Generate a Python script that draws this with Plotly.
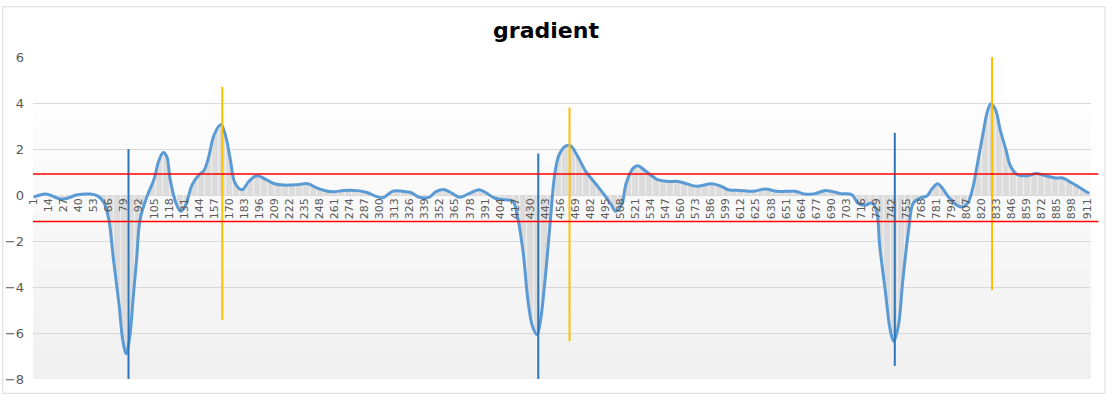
import plotly.graph_objects as go

# ---- data ----
idx = [1, 11, 15, 24, 31, 38, 50, 57, 62, 66, 70, 75, 78, 81, 84, 87, 90, 93, 99,
       105, 109, 113, 116, 119, 124, 128, 132, 138, 144, 148, 152, 157, 163, 167, 171,
       175, 181, 187, 194, 202, 209, 217, 229, 238, 246, 259, 269, 281, 289, 297, 303,
       311, 320, 327, 334, 343, 349, 356, 363, 369, 377, 386, 392, 399, 406, 415, 419,
       424, 428, 432, 436, 439, 442, 445, 448, 451, 455, 461, 465, 471, 478, 486, 494,
       500, 504, 509, 513, 519, 523, 530, 540, 549, 558, 565, 574, 587, 595, 601, 611,
       623, 633, 643, 651, 659, 667, 676, 685, 690, 698, 708, 713, 719, 725, 729, 732,
       737, 741, 744, 748, 752, 757, 761, 767, 773, 777, 782, 786, 792, 798, 803, 808,
       812, 816, 821, 825, 828, 832, 836, 841, 845, 851, 860, 867, 875, 884, 890, 897,
       904, 913]
gradient = [-0.09, 0.04, 0.0, -0.18, -0.13, 0.0, 0.04, -0.06, -0.35, -1.07, -2.8, -4.84,
            -6.3, -6.9, -6.2, -4.5, -2.8, -1.07, -0.06,
            0.67, 1.46, 1.85, 1.68, 0.67, -0.35, -0.71, -0.49, 0.45, 0.88, 1.05, 1.6, 2.62,
            3.06, 2.55, 1.53,
            0.52, 0.23, 0.59, 0.84, 0.67, 0.49, 0.43, 0.45, 0.49, 0.30, 0.14, 0.20, 0.19,
            0.11, -0.06, -0.12,
            0.16, 0.16, 0.11, -0.10, -0.09, 0.16, 0.23, 0.06, -0.10, 0.06, 0.23, 0.09,
            -0.13, -0.20, -0.28, -0.93,
            -2.52, -4.55, -5.71, -6.07, -5.42, -4.12, -2.52, -0.78, 0.81, 1.75, 2.14, 2.14,
            1.68, 1.03, 0.52, 0.01,
            -0.42, -0.71, -0.42, 0.52, 1.17, 1.27, 1.03, 0.67, 0.59, 0.59, 0.49, 0.38,
            0.49, 0.38, 0.23, 0.20,
            0.16, 0.26, 0.16, 0.16, 0.16, 0.04, 0.06, 0.20, 0.16, 0.06, 0.01, -0.35, -0.45,
            -0.35, -0.64, -2.23,
            -4.26, -5.86, -6.36, -5.71, -3.68, -1.5, -0.35, -0.13, -0.03, 0.26, 0.49, 0.30,
            -0.13, -0.42, -0.52, -0.35,
            0.23, 1.25, 2.62, 3.63, 3.97, 3.71, 2.84, 1.97, 1.25, 0.88, 0.84, 0.93, 0.84,
            0.74, 0.74, 0.55,
            0.35, 0.06]

n_categories = 914
tick_labels = [str(v) for v in range(1, n_categories + 1, 13)]

min_marks_x = [83, 437, 745]
min_marks_top = [2.0, 1.8, 2.7]
min_marks_bottom = [-8.1, -8.33, -7.43]

max_marks_x = [164, 464, 829]
max_marks_top = [4.7, 3.8, 6.0]
max_marks_bottom = [-5.43, -6.36, -4.13]

thresholds = [0.91, -1.15]

y_min, y_max = -8, 6

fig = go.Figure()

# gray column-like area (white stripes imitate the column gaps)
fig.add_trace(go.Scatter(
    x=idx, y=gradient, mode="lines", line=dict(width=0, shape="spline", color="#d9d9d9"),
    fill="tozeroy", fillcolor="#dcdcdc",
    fillpattern=dict(shape="|", bgcolor="#dcdcdc", fgcolor="#ffffff", size=7, solidity=0.18),
    hoverinfo="skip", showlegend=False))

# smoothed line
fig.add_trace(go.Scatter(
    x=idx, y=gradient, mode="lines", line=dict(width=3, shape="spline", color="#5b9bd5"),
    showlegend=False))


def vlines(xs, tops, bottoms, color):
    xx, yy = [], []
    for x, t, b in zip(xs, tops, bottoms):
        xx += [x, x, None]
        yy += [b, t, None]
    fig.add_trace(go.Scatter(x=xx, y=yy, mode="lines", line=dict(color=color, width=2),
                             showlegend=False, hoverinfo="skip"))


vlines(min_marks_x, min_marks_top, min_marks_bottom, "#2e75b6")
vlines(max_marks_x, max_marks_top, max_marks_bottom, "#ffc000")

shapes = []
# plot-area gradient background
n_bands = 30
g_top = 4.3
for k in range(n_bands):
    y0 = g_top - (g_top - y_min) * k / n_bands
    y1 = g_top - (g_top - y_min) * (k + 1) / n_bands
    t = (k + 0.5) / n_bands
    c = int(round(254 - t * (254 - 240)))
    shapes.append(dict(type="rect", xref="paper", yref="y", x0=0, x1=1, y0=y1, y1=y0,
                       fillcolor=f"rgb({c},{c},{c})", line=dict(width=0), layer="below"))
for th in thresholds:
    shapes.append(dict(type="line", xref="paper", yref="y", x0=0, x1=1.007, y0=th, y1=th,
                       line=dict(color="#ff0000", width=1.5), layer="above"))
# outer chart border
shapes.append(dict(type="rect", xref="paper", yref="paper", x0=-0.0286, x1=1.0132,
                   y0=-0.0444, y1=1.156, line=dict(color="#d9d9d9", width=1),
                   fillcolor="rgba(0,0,0,0)", layer="below"))

fig.update_layout(
    width=1112, height=402,
    margin=dict(l=33, r=21, t=57, b=23, autoexpand=False),
    paper_bgcolor="white", plot_bgcolor="rgba(0,0,0,0)",
    title=dict(text="<b>gradient</b>", x=0.491, xref="container", y=0.925,
               xanchor="center", yanchor="middle",
               font=dict(family="DejaVu Sans", size=22, color="#000000")),
    shapes=shapes,
    font=dict(family="DejaVu Sans", color="#595959"),
)

fig.update_xaxes(
    range=[0.5, n_categories + 0.5],
    tickmode="array", tickvals=list(range(1, n_categories + 1, 13)), ticktext=tick_labels,
    tickangle=-90, tickfont=dict(size=11, color="#595959"),
    showgrid=False, zeroline=False, showline=False, ticks="",
    anchor="free", position=(0 - y_min) / (y_max - y_min), automargin=False,
)
fig.update_yaxes(
    range=[y_min, y_max], dtick=2, tick0=0,
    showgrid=True, gridcolor="#d9d9d9", gridwidth=1,
    zeroline=True, zerolinecolor="#d9d9d9", zerolinewidth=1,
    tickfont=dict(size=13, color="#595959"), ticks="", showline=False, automargin=False,
    ticklabelstandoff=8,
)

fig.write_html("out.html", config={"displayModeBar": False},
               post_script="document.body.style.margin='0';")
